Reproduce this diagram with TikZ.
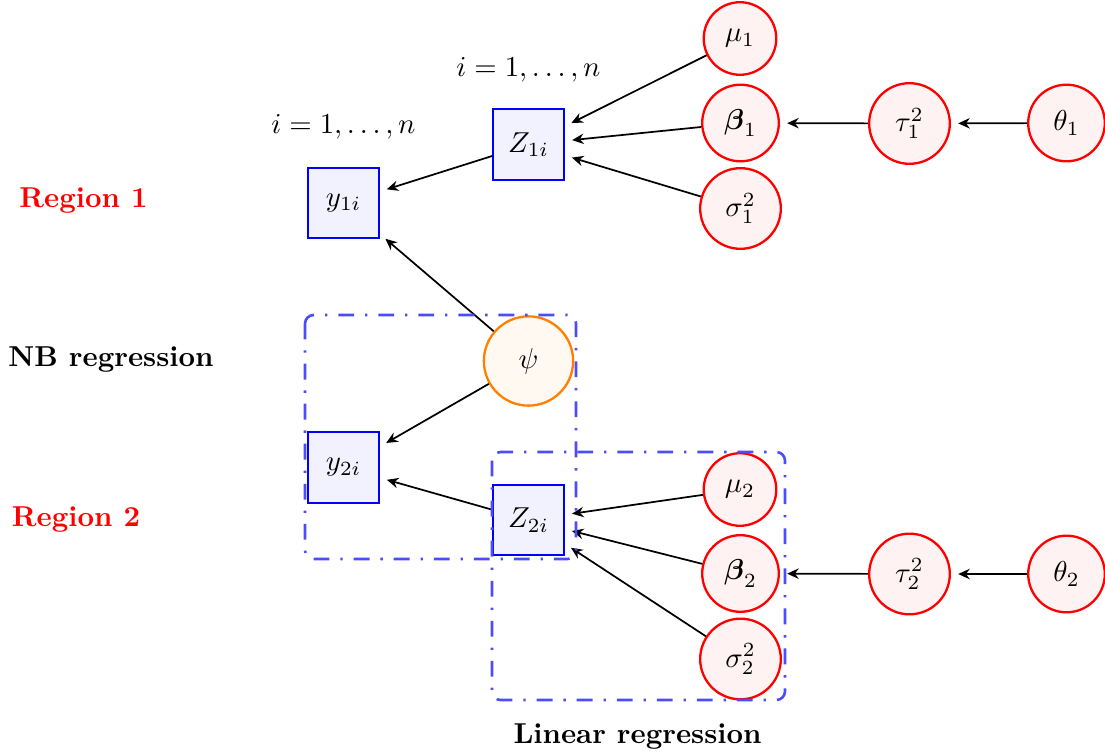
\documentclass[tikz,border=0pt]{standalone}
\usepackage{amsmath,amssymb}
\usetikzlibrary{arrows.meta}
\begin{document}
\begin{tikzpicture}[x=0.3472pt,y=-0.3472pt,
  obs/.style={rectangle, draw=blue, thick, fill=blue!5, minimum size=24.5pt, inner sep=0pt},
  prior/.style={circle, draw=red, thick, fill=red!5, inner sep=0pt},
  shared/.style={circle, draw=orange, thick, fill=orange!5, inner sep=0pt, minimum size=31pt},
  link/.style={-{Stealth[length=4pt,width=3.6pt]}, semithick, shorten >=2.5pt},
  plate/.style={draw=blue!70, line width=0.9pt, rounded corners=3pt, dash pattern=on 5.5pt off 3.8pt on 0.8pt off 3.8pt},
  region/.style={font=\bfseries, text=red},
  model/.style={font=\bfseries}]
\useasboundingbox (0,0) rectangle (1105,756);

% observed / latent quantities
\node[obs] (y1) at (343.5,203) {$y_{1i}$};
\node[obs] (z1) at (528.5,144.5) {$Z_{1i}$};
\node[obs] (y2) at (343.5,467.5) {$y_{2i}$};
\node[obs] (z2) at (528.5,520) {$Z_{2i}$};

% shared dispersion parameter
\node[shared] (psi) at (528.5,361) {$\psi$};

% region 1 parameters
\node[prior, minimum size=25.2pt] (mu1) at (740,38.5) {$\mu_1$};
\node[prior, minimum size=26.6pt] (b1) at (740.5,123) {$\boldsymbol{\beta}_1$};
\node[prior, minimum size=28pt] (s1) at (740.5,208.5) {$\sigma_1^2$};
\node[prior, minimum size=28pt] (t1) at (909.5,123.5) {$\tau_1^2$};
\node[prior, minimum size=26.6pt] (th1) at (1066.5,123) {$\theta_1$};

% region 2 parameters
\node[prior, minimum size=25.2pt] (mu2) at (740,489.5) {$\mu_2$};
\node[prior, minimum size=26.6pt] (b2) at (740.5,573.5) {$\boldsymbol{\beta}_2$};
\node[prior, minimum size=28pt] (s2) at (740.5,659) {$\sigma_2^2$};
\node[prior, minimum size=28pt] (t2) at (909.5,574) {$\tau_2^2$};
\node[prior, minimum size=26.6pt] (th2) at (1066.5,574) {$\theta_2$};

% index labels
\node (idxz) at (528.5,70) {$i = 1, \ldots, n$};
\node (idxy) at (343.5,127) {$i = 1, \ldots, n$};

% side and bottom titles
\node[region] (r1) at (83.5,201) {Region 1};
\node[model] (nb) at (111,360) {NB regression};
\node[region] (r2) at (76,520) {Region 2};
\node[model] (lin) at (637.5,737) {Linear regression};

% dependencies
\draw[link] (mu1) -- (z1);
\draw[link] (b1) -- (z1);
\draw[link] (s1) -- (z1);
\draw[link] (t1) -- (b1);
\draw[link] (th1) -- (t1);
\draw[link] (z1) -- (y1);
\draw[link] (psi) -- (y1);
\draw[link] (psi) -- (y2);
\draw[link] (z2) -- (y2);
\draw[link] (mu2) -- (z2);
\draw[link] (b2) -- (z2);
\draw[link] (s2) -- (z2);
\draw[link] (t2) -- (b2);
\draw[link] (th2) -- (t2);

% model plates
\draw[plate] (305,315) rectangle (576,559);
\draw[plate] (492,452) rectangle (785,700);
\end{tikzpicture}
\end{document}
